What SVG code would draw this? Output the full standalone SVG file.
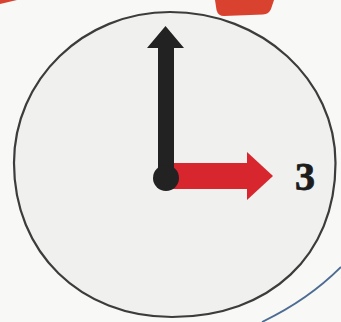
<svg xmlns="http://www.w3.org/2000/svg" width="341" height="322" viewBox="0 0 341 322">
  <style>
    .red { fill: #d8262f; }
    .hand { fill: #222222; }
    .face { fill: #f0f0ee; stroke: #3c3c3c; stroke-width: 2.2; }
    .num { font-family: "Liberation Serif", "DejaVu Serif", serif; font-weight: bold; font-size: 40px; fill: #1c1c1c; stroke: #1c1c1c; stroke-width: 0.8; }
  </style>
  <rect width="341" height="322" fill="#f8f8f6"/>
  <g id="decor">
    <path d="M0 0 H17 L0 4 Z" fill="#d9422f"/>
    <path d="M215 0 H274 L271 9 Q269 14 263 14.5 L224 16 Q218 16 216.5 10 Z" fill="#d9422f"/>
    <path d="M262 322 Q308 300 341 267" fill="none" stroke="#4d6c92" stroke-width="1.8"/>
  </g>
  <g id="clock-face">
    <path class="face" d="M170 12 C261.9 12 335.5 79.6 335.5 163 C335.5 255.4 270 317 172 317 C80.4 317 14 252.3 14 163 C14 79.6 83.4 12 170 12 Z"/>
  </g>
  <g id="minute-hand">
    <rect class="red" x="170" y="163" width="79" height="26"/>
    <polygon class="red" points="247,152 273,176 247,200"/>
  </g>
  <g id="hour-hand">
    <polygon class="hand" points="165.5,26 184,48 174,48 174,178 158,178 158,48 147,48"/>
    <circle class="hand" cx="166" cy="178" r="13"/>
  </g>
  <g id="label-3">
    <text class="num" x="305" y="190" text-anchor="middle">3</text>
  </g>
</svg>
